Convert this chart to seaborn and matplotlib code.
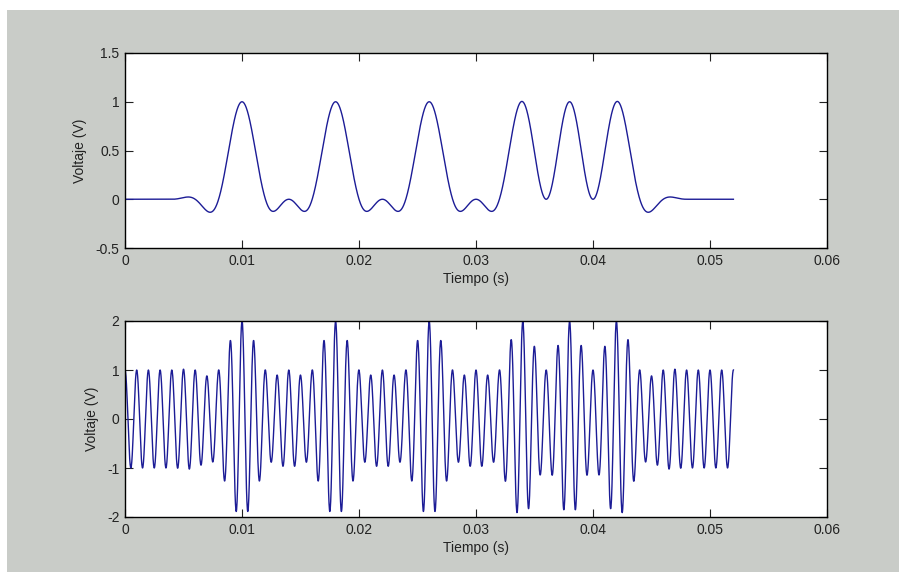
import numpy as np
import pandas as pd
import seaborn as sns
import matplotlib.pyplot as plt
from matplotlib.patches import Rectangle

# Data
pulse_centers = [0.010, 0.018, 0.026, 0.034, 0.038, 0.042]  # s, bits = 1
zero_spacing = 0.002      # s, first zero crossing of each pulse
rolloff = 0.5             # raised-cosine roll-off
pulse_span = 0.006        # s, pulses truncated at +/- this
carrier_freq = 1000       # Hz
t_end = 0.052             # s

x_ticks = [0, 0.01, 0.02, 0.03, 0.04, 0.05, 0.06]
x_ticklabels = ['0', '0.01', '0.02', '0.03', '0.04', '0.05', '0.06']
top_yticks = [-0.5, 0, 0.5, 1, 1.5]
top_yticklabels = ['-0.5', '0', '0.5', '1', '1.5']
bot_yticks = [-2, -1, 0, 1, 2]
bot_yticklabels = ['-2', '-1', '0', '1', '2']


def raised_cosine(t):
    x = t / zero_spacing
    den = 1 - (2 * rolloff * x) ** 2
    safe = np.where(np.abs(den) < 1e-9, 1.0, den)
    h = np.sinc(x) * np.cos(np.pi * rolloff * x) / safe
    h = np.where(np.abs(den) < 1e-9, np.pi / 4 * np.sinc(1 / (2 * rolloff)), h)
    return np.where(np.abs(t) <= pulse_span, h, 0.0)


t = np.linspace(0, t_end, 2601)
pulses = sum(raised_cosine(t - c) for c in pulse_centers)
modulated = np.cos(2 * np.pi * carrier_freq * t) * (1 + pulses)
df = pd.DataFrame({'Tiempo': t, 'Pulsos': pulses, 'Modulada': modulated})

# Plot
plt.rcParams['font.family'] = ['Liberation Sans', 'DejaVu Sans']
fig = plt.figure(figsize=(8.99, 5.72), dpi=100)
fig.patch.set_facecolor('#c9ccc8')
# white margin on the top and left of the screenshot
fig.patches.append(Rectangle((0, 0), 7 / 899, 1, transform=fig.transFigure,
                             facecolor='white', edgecolor='none', zorder=-1))
fig.patches.append(Rectangle((0, 1 - 10 / 572), 1, 10 / 572, transform=fig.transFigure,
                             facecolor='white', edgecolor='none', zorder=-1))

ax1 = fig.add_axes([125 / 899, (572 - 248) / 572, 702 / 899, 195 / 572])
ax2 = fig.add_axes([125 / 899, (572 - 517) / 572, 702 / 899, 196 / 572])

line_color = '#1c1c96'
sns.lineplot(data=df, x='Tiempo', y='Pulsos', ax=ax1, color=line_color,
             linewidth=1.0, estimator=None)
sns.lineplot(data=df, x='Tiempo', y='Modulada', ax=ax2, color=line_color,
             linewidth=1.0, estimator=None)

for ax, yt, ytl, ylim in [(ax1, top_yticks, top_yticklabels, (-0.5, 1.5)),
                          (ax2, bot_yticks, bot_yticklabels, (-2, 2))]:
    ax.set_facecolor('white')
    ax.set_xlim(0, 0.06)
    ax.set_ylim(*ylim)
    ax.set_xticks(x_ticks)
    ax.set_xticklabels(x_ticklabels)
    ax.set_yticks(yt)
    ax.set_yticklabels(ytl)
    ax.tick_params(direction='in', top=True, right=True, length=6, width=0.8,
                   labelsize=10, colors='#222222', pad=4)
    for s in ax.spines.values():
        s.set_color('black')
        s.set_linewidth(1.0)
    ax.set_xlabel('Tiempo (s)', fontsize=10, color='#222222', labelpad=3)
    ax.set_ylabel('Voltaje (V)', fontsize=10, color='#222222', labelpad=6)

plt.savefig('out.png', dpi=100, facecolor=fig.get_facecolor())
